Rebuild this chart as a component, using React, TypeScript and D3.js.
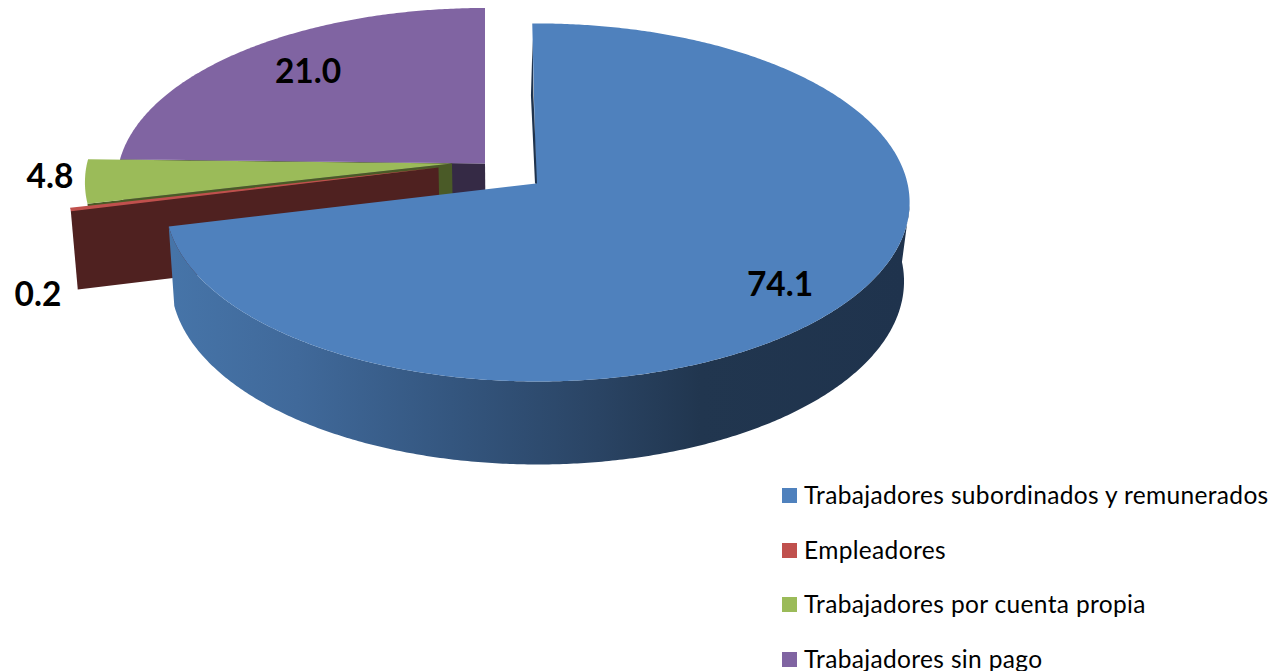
import React from "react";
import * as d3 from "d3";

const categories = [
  "Trabajadores subordinados y remunerados",
  "Empleadores",
  "Trabajadores por cuenta propia",
  "Trabajadores sin pago",
];
const values = [74.1, 0.2, 4.8, 21.0];
const valueLabels = ["74.1", "0.2", "4.8", "21.0"];
const topColors = ["#4f81bd", "#c0504d", "#9bbb59", "#8064a2"];
const wallColors = ["#1f334d", "#4f2120", "#4a5a27", "#352a45"];

// Excel's 3-D view angle per cumulative value (degrees clockwise from the back of the pie)
const viewAngles = [-0.9, 256.3, 257.2, 271.4, 360];
// Exploded centre of each slice on the screen, its radii and rim shift
const centers: [number, number][] = [[536, 183.5], [438.5, 167.5], [452, 163.5], [485, 163.5]];
const radiiX = [370, 369, 365, 366];
const radiiY = [177, 177, 177, 172];
const rimShift = [1.5, 0, 0, 0];
const labelPos: [number, number][] = [[780, 296], [38, 306], [50, 188], [308, 83]];
const legendRows = [503, 558, 612, 667];
const rimStops: [number, string][] = [
  [0, "#4674a8"],
  [0.17, "#40699a"],
  [0.38, "#34567f"],
  [0.58, "#2a4464"],
  [0.72, "#21364f"],
  [1, "#1f334d"],
];

const P = 0.106, VX = 538;

const cumulative = [0, ...d3.cumsum(values)];
const angle = d3.scaleLinear().domain(cumulative).range(viewAngles);
const rad = d3.scaleLinear().domain([0, 360]).range([0, 2 * Math.PI]);

type Pt = [number, number];
function rimPoint(i: number, deg: number): Pt {
  const a = rad(deg);
  const u = Math.sin(a);
  const v = -Math.cos(a);
  const w = 1 - P * v;
  return [centers[i][0] + rimShift[i] + (radiiX[i] * u) / w, centers[i][1] + (radiiY[i] * v) / w];
}
function lower([x, y]: Pt): Pt {
  return [VX + (x - VX) * 0.985, y + 79 + (y - 208) * 0.023];
}
const line = d3.line<Pt>();
function sweep(i: number, a0: number, a1: number): Pt[] {
  const n = Math.max(2, Math.ceil(Math.abs(a1 - a0) * 2));
  return d3.range(n + 1).map((k) => rimPoint(i, a0 + ((a1 - a0) * k) / n));
}

export default function App() {
  const a0s = values.map((_, i) => angle(cumulative[i]));
  const a1s = values.map((_, i) => angle(cumulative[i + 1]));
  const edgeWall = (i: number) => {
    const e = rimPoint(i, a0s[i]);
    const c = centers[i];
    return line([c, e, lower(e), lower(c)]) + "Z";
  };
  const topFace = (i: number, extra = 0) =>
    line([centers[i], ...sweep(i, a0s[i] - extra, a1s[i])]) + "Z";

  const rimTop = sweep(0, 97, a1s[0]);
  const rimBottom = sweep(0, 90, a1s[0]).map(lower).reverse();
  const tip = centers[0];
  const start = rimPoint(0, a0s[0]);
  const along = (t: number, off: number): Pt => [
    start[0] + (tip[0] - start[0]) * t + off,
    start[1] + (tip[1] - start[1]) * t,
  ];
  const sliver: Pt[] = [along(0.1, 0), along(0.45, -3), along(1, -1), along(1, 1), along(0.45, -0.5)];

  return (
    <svg
      width={1274}
      height={671}
      style={{ position: "absolute", left: 0, top: 0, background: "#fff" }}
      fontFamily="Lato, Carlito, sans-serif"
    >
      <defs>
        <linearGradient id="rim" gradientUnits="userSpaceOnUse" x1={173} x2={905} y1={0} y2={0}>
          {rimStops.map(([o, c]) => (
            <stop key={o} offset={o} stopColor={c} />
          ))}
        </linearGradient>
      </defs>
      {[3, 2, 1].map((i) => (
        <g key={i}>
          <path d={edgeWall(i)} fill={wallColors[i]} />
          <path d={topFace(i, i === 1 ? 0.25 : 0)} fill={topColors[i]} />
        </g>
      ))}
      <path d={line([...rimTop, ...rimBottom]) + "Z"} fill="url(#rim)" />
      <path d={topFace(0)} fill={topColors[0]} />
      <path d={line(sliver) + "Z"} fill={wallColors[0]} />
      {valueLabels.map((t, i) => (
        <text
          key={t}
          x={labelPos[i][0]}
          y={labelPos[i][1]}
          textAnchor="middle"
          fontSize={33.5}
          fontWeight={700}
          fill="#000"
        >
          {t}
        </text>
      ))}
      {categories.map((c, i) => (
        <g key={c}>
          <rect x={782} y={legendRows[i] - 15} width={15} height={15} fill={topColors[i]} />
          <text x={804} y={legendRows[i] + 1} fontSize={24.5} letterSpacing={0.34} fill="#000">
            {c}
          </text>
        </g>
      ))}
    </svg>
  );
}
